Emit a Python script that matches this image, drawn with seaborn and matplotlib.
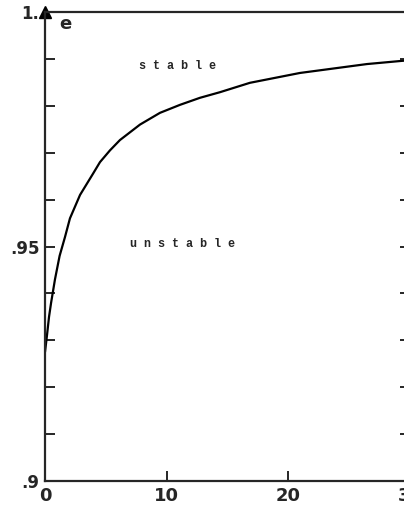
import numpy as np
import pandas as pd
import seaborn as sns
import matplotlib.pyplot as plt

# boundary curve
x_vals = [0.0, 0.16, 0.33, 0.5, 0.82, 1.2, 1.64, 2.05, 2.88, 3.94, 4.52, 5.34,
          6.16, 7.81, 9.45, 11.09, 12.73, 14.38, 16.84, 20.95, 26.46, 29.42, 30.0]
e_vals = [0.9275, 0.9310, 0.9350, 0.9380, 0.9430, 0.9480, 0.9520, 0.9560,
          0.9610, 0.9655, 0.9680, 0.9705, 0.9727, 0.9760, 0.9785, 0.9802, 0.9817, 0.9829,
          0.9849, 0.9870, 0.9889, 0.9896, 0.9897]

x_ticks = [0, 10, 20, 30]
x_labels = ['0', '10', '20', '30']
y_ticks = [0.9, 0.95, 1.0]
y_labels = ['.9', '.95', '1.']

df = pd.DataFrame({'x': x_vals, 'e': e_vals})

sns.set_style('ticks')
plt.rcParams['font.family'] = ['DejaVu Sans']

fig = plt.figure(figsize=(4.04, 5.17), dpi=100)
ax = fig.add_axes([0.1114, 0.0696, 0.9035, 0.9072])

sns.lineplot(data=df, x='x', y='e', ax=ax, color='black', linewidth=1.6, sort=False)

ax.set_xlim(0, 30)
ax.set_ylim(0.9, 1.0)
ax.set_xticks(x_ticks)
ax.set_xticklabels(x_labels, fontsize=13, fontweight='bold')
ax.set_yticks(y_ticks)
ax.set_yticklabels(y_labels, fontsize=12, fontweight='bold')
ax.set_yticks(np.arange(0.91, 1.0, 0.01), minor=True)
ax.tick_params(axis='both', which='both', direction='in', length=7, width=1.4,
               right=True, top=False, pad=4)
ax.set_xlabel('')
ax.set_ylabel('')
for s in ax.spines.values():
    s.set_linewidth(1.6)
    s.set_visible(True)

# arrow head at top of the e axis
ax.plot(0, 1, marker='^', color='black', markersize=8, transform=ax.transAxes, clip_on=False)
ax.text(1.2, 0.9975, 'e', fontsize=13, fontweight='bold', va='center', ha='left')

ax.text(10.9, 0.9885, 's t a b l e', family='Liberation Mono', fontweight='bold',
        fontsize=8.5, ha='center', va='center')
ax.text(11.3, 0.9505, 'u n s t a b l e', family='Liberation Mono', fontweight='bold',
        fontsize=8.5, ha='center', va='center')

fig.savefig('out.png', dpi=100)
